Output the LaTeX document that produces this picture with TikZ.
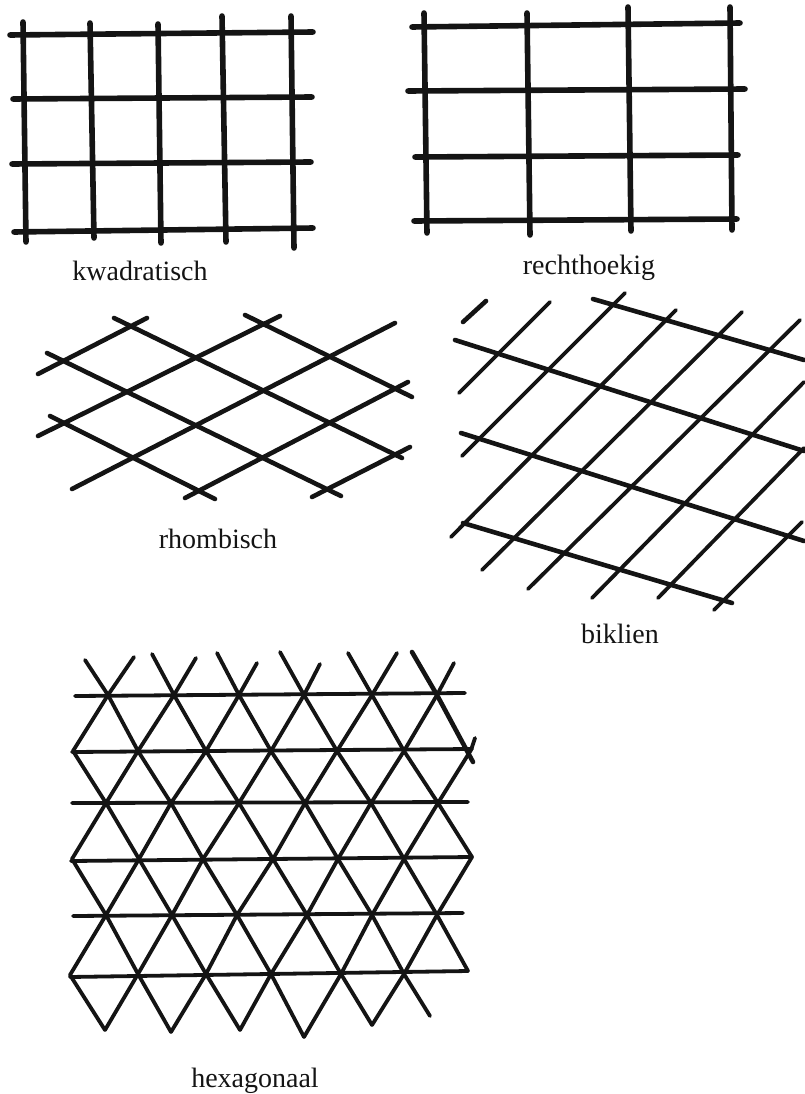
\documentclass[tikz,border=0pt]{standalone}
\usepackage{fontspec}
\setmainfont{Liberation Serif}
\usepackage{xcolor}
\definecolor{inkt}{HTML}{141414}
\tikzset{
  dik/.style={inkt, line width=5.6pt, line cap=round},
  middel/.style={inkt, line width=4.6pt, line cap=round},
  dun/.style={inkt, line width=3.8pt, line cap=round, line join=round},
  naam/.style={inkt, font=\fontsize{28}{30}\selectfont, inner sep=0pt, anchor=base}
}

\begin{document}
\begin{tikzpicture}[x=1pt, y=-1pt]
    \useasboundingbox (0,0) rectangle (804,1094);
    % kwadratisch
    \foreach \xa/\ya/\xb/\yb in {10/35/313/32, 13/99/312/97, 12/164/311/162, 14/232/313/228,
                                 23/22/26/242, 90/23/94/238, 158/24/161/243, 222/16/226/242, 291/16/294/248} {
      \draw[dik] (\xa,\ya) -- (\xb,\yb);
    }
    \node[naam] (kwadratisch) at (140,280) {kwadratisch};
    % rechthoekig
    \foreach \xa/\ya/\xb/\yb in {412/27/740/23, 408/91/745/89, 415/157/738/155, 414/221/737/219,
                                 424/13/427/233, 527/13/530/235, 628/7/631/231, 730/7/732/230} {
      \draw[dik] (\xa,\ya) -- (\xb,\yb);
    }
    \node[naam] (rechthoekig) at (589,274) {rechthoekig};
    % rhombisch
    \foreach \xa/\ya/\xb/\yb in {114/318/402/458, 245/315/412/397, 47/353/341/496, 50/416/215/499,
                                 38/374/147/318, 38/436/280/316, 72/489/395/323, 185/498/408/382, 312/497/410/447} {
      \draw[middel] (\xa,\ya) -- (\xb,\yb);
    }
    \node[naam] (rhombisch) at (218,548) {rhombisch};
    % biklien
    \foreach \xa/\ya/\xb/\yb in {593/299/804/360, 455/340/804/451, 461/433/804/541, 463/523/732/603,
                                 463/322/486/301} {
      \draw[middel] (\xa,\ya) -- (\xb,\yb);
    }
    \foreach \xa/\ya/\xb/\yb in {459/393/550/302, 462/456/625/293, 451/537/676/310,
                                 482/570/742/312, 528/589/800/320, 592/598/804/382, 658/598/804/448, 714/610/802/522} {
      \draw[dun] (\xa,\ya) -- (\xb,\yb);
    }
    \node[naam] (biklien) at (620,643) {biklien};
    % hexagonaal
    \foreach \xa/\ya/\xb/\yb in {75/696/465/693, 72/752/472/749, 72/803/468/802, 71/861/472/857, 73/916/463/913, 70/977/468/971} {
      \draw[dun] (\xa,\ya) -- (\xb,\yb);
    }
    \draw[dun] (85,660) -- (108,695) -- (138,751) -- (171,803) -- (203,859) -- (237,915) -- (271,974) -- (304,1037)
               (152,654) -- (174,695) -- (206,751) -- (239,803) -- (273,859) -- (307,915) -- (341,974) -- (372,1025)
               (217,653) -- (239,695) -- (271,751) -- (305,803) -- (338,859) -- (372,915) -- (404,974) -- (430,1016)
               (280,652) -- (304,695) -- (337,751) -- (371,803) -- (404,859) -- (437,915) -- (468,971)
               (348,653) -- (372,695) -- (404,751) -- (438,803) -- (472,857)
               (73,751) -- (106,803) -- (139,859) -- (172,915) -- (206,974) -- (240,1030)
               (72,859) -- (106,915) -- (138,974) -- (171,1032)
               (70,975) -- (105,1030);
    \draw[middel] (412,652) -- (437,695) -- (473,762);
    \draw[dun] (134,657) -- (108,695) -- (73,751)
               (196,658) -- (174,695) -- (138,751) -- (106,803) -- (72,859)
               (257,663) -- (239,695) -- (206,751) -- (171,803) -- (139,859) -- (106,915) -- (70,975)
               (320,664) -- (304,695) -- (271,751) -- (239,803) -- (203,859) -- (172,915) -- (138,974) -- (105,1030)
               (397,653) -- (372,695) -- (337,751) -- (305,803) -- (273,859) -- (237,915) -- (206,974) -- (171,1032)
               (454,663) -- (437,695) -- (404,751) -- (371,803) -- (338,859) -- (307,915) -- (271,974) -- (240,1030)
               (475,738) -- (471,750) -- (438,803) -- (404,859) -- (372,915) -- (341,974) -- (304,1037)
               (472,857) -- (437,915) -- (404,974) -- (372,1025);
    \node[naam] (hexagonaal) at (255,1087) {hexagonaal};
\end{tikzpicture}
\end{document}
